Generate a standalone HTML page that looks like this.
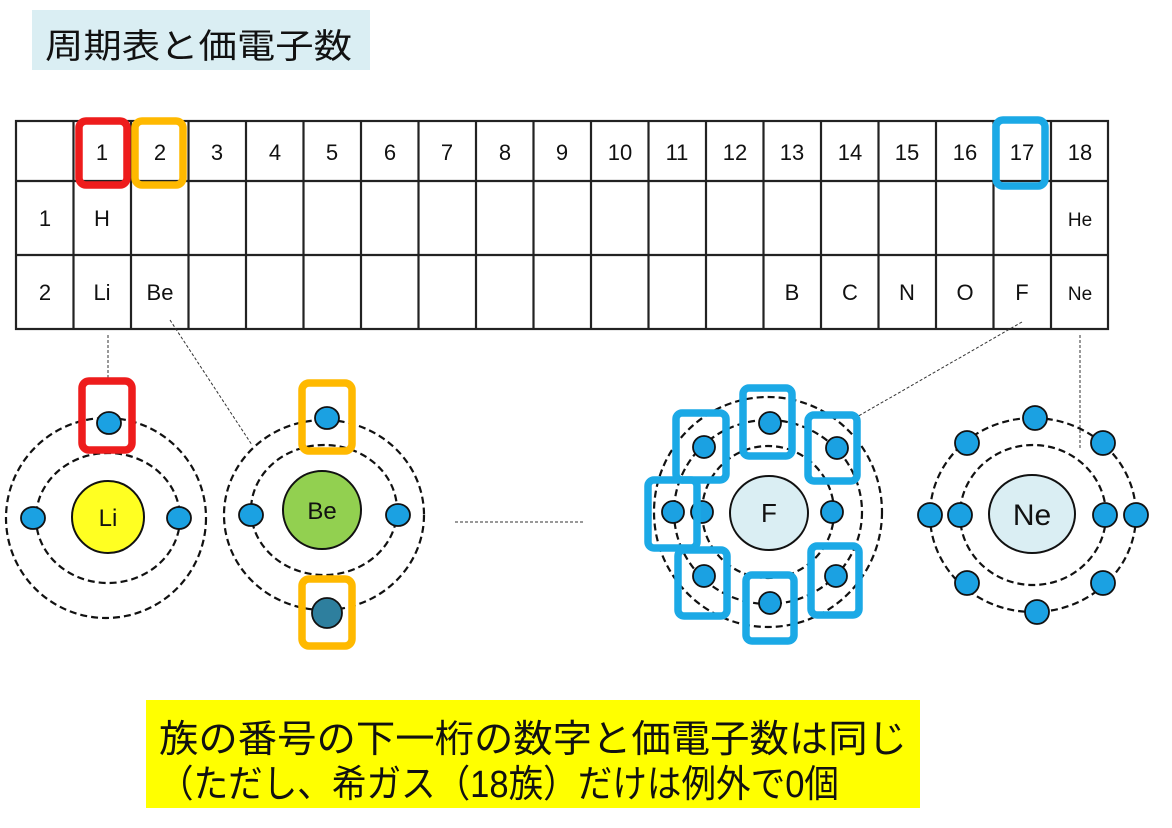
<!DOCTYPE html>
<html><head><meta charset="utf-8"><style>
html,body{margin:0;padding:0;background:#fff;}
svg{display:block;}
text{font-family:"Liberation Sans","Noto Sans CJK JP",sans-serif;}
</style></head><body>
<svg width="1172" height="828" viewBox="0 0 1172 828" xmlns="http://www.w3.org/2000/svg">
<rect x="32" y="10" width="338" height="60" fill="#daeef3"/>
<text x="45" y="58" font-size="34" textLength="307" lengthAdjust="spacingAndGlyphs" fill="#111">周期表と価電子数</text>

<g stroke="#222" stroke-width="2.2" fill="none">
<rect x="16" y="121" width="1092" height="208"/>
<line x1="16" y1="181" x2="1108" y2="181"/>
<line x1="16" y1="255" x2="1108" y2="255"/>
<line x1="73.5" y1="121" x2="73.5" y2="329"/><line x1="131" y1="121" x2="131" y2="329"/><line x1="188.5" y1="121" x2="188.5" y2="329"/><line x1="246" y1="121" x2="246" y2="329"/><line x1="303.5" y1="121" x2="303.5" y2="329"/><line x1="361" y1="121" x2="361" y2="329"/><line x1="418.5" y1="121" x2="418.5" y2="329"/><line x1="476" y1="121" x2="476" y2="329"/><line x1="533.5" y1="121" x2="533.5" y2="329"/><line x1="591" y1="121" x2="591" y2="329"/><line x1="648.5" y1="121" x2="648.5" y2="329"/><line x1="706" y1="121" x2="706" y2="329"/><line x1="763.5" y1="121" x2="763.5" y2="329"/><line x1="821" y1="121" x2="821" y2="329"/><line x1="878.5" y1="121" x2="878.5" y2="329"/><line x1="936" y1="121" x2="936" y2="329"/><line x1="993.5" y1="121" x2="993.5" y2="329"/><line x1="1051" y1="121" x2="1051" y2="329"/>
</g>
<g font-size="22" fill="#111" text-anchor="middle">
<text x="102" y="160">1</text><text x="160" y="160">2</text><text x="217" y="160">3</text><text x="275" y="160">4</text><text x="332" y="160">5</text><text x="390" y="160">6</text><text x="447" y="160">7</text><text x="505" y="160">8</text><text x="562" y="160">9</text><text x="620" y="160">10</text><text x="677" y="160">11</text><text x="735" y="160">12</text><text x="792" y="160">13</text><text x="850" y="160">14</text><text x="907" y="160">15</text><text x="965" y="160">16</text><text x="1022" y="160">17</text><text x="1080" y="160">18</text>
<text x="45" y="226">1</text><text x="102" y="226">H</text>
<text x="45" y="300">2</text><text x="102" y="300">Li</text><text x="160" y="300">Be</text>
<text x="792" y="300">B</text><text x="850" y="300">C</text><text x="907" y="300">N</text><text x="965" y="300">O</text><text x="1022" y="300">F</text>
<text x="1080" y="226" font-size="19">He</text><text x="1080" y="300" font-size="19">Ne</text>
</g>
<g fill="none" stroke-width="7.5">
<rect x="79" y="121" width="48" height="64" rx="7" stroke="#ee1c1c"/>
<rect x="135" y="121" width="48" height="64" rx="7" stroke="#ffb900"/>
<rect x="996" y="120" width="49" height="66" rx="7" stroke="#1ba9e6"/>
</g>

<g stroke="#333" stroke-width="1" stroke-dasharray="3,2" fill="none">
<line x1="108" y1="335" x2="108" y2="378"/>
<line x1="170" y1="320" x2="252" y2="445"/>
<line x1="1022" y1="322" x2="855" y2="418"/>
<line x1="1080" y1="335" x2="1080" y2="450"/>
<line x1="455" y1="522" x2="585" y2="522"/>
</g>

<g fill="none" stroke="#111" stroke-width="2.2" stroke-dasharray="7,4">
<ellipse cx="108" cy="518" rx="72" ry="65"/>
<ellipse cx="106" cy="518" rx="100" ry="100"/>
<ellipse cx="324" cy="510" rx="73" ry="65"/>
<ellipse cx="324" cy="515" rx="100" ry="95"/>
<ellipse cx="768" cy="512" rx="66" ry="66"/>
<ellipse cx="768" cy="512" rx="94" ry="92"/>
<ellipse cx="768" cy="512" rx="114" ry="115"/>
<ellipse cx="1033" cy="515" rx="73" ry="70"/>
<ellipse cx="1033" cy="515" rx="103" ry="97"/>
</g>

<g stroke="#111" stroke-width="2">
<circle cx="108" cy="517" r="36" fill="#ffff22"/>
<circle cx="322" cy="510" r="39" fill="#92d050"/>
<ellipse cx="769" cy="513" rx="39" ry="37" fill="#daeef3"/>
<ellipse cx="1032" cy="514" rx="43" ry="39" fill="#daeef3"/>
</g>
<g font-size="24" fill="#111" text-anchor="middle">
<text x="108" y="526">Li</text><text x="322" y="519">Be</text>
<text x="769" y="522" font-size="26">F</text><text x="1032" y="525" font-size="30">Ne</text>
</g>

<g fill="#1ba1e2" stroke="#111" stroke-width="1.8">
<ellipse cx="109" cy="423" rx="12" ry="11"/><ellipse cx="33" cy="518" rx="12" ry="11"/><ellipse cx="179" cy="518" rx="12" ry="11"/>
<ellipse cx="327" cy="418" rx="12" ry="11"/><ellipse cx="251" cy="515" rx="12" ry="11"/><ellipse cx="398" cy="515" rx="12" ry="11"/>
<circle cx="327" cy="613" r="15" fill="#2e7f9e"/>
<circle cx="704" cy="447" r="11"/><circle cx="770" cy="423" r="11"/><circle cx="837" cy="448" r="11"/><circle cx="673" cy="512" r="11"/><circle cx="704" cy="576" r="11"/><circle cx="770" cy="603" r="11"/><circle cx="836" cy="576" r="11"/><circle cx="702" cy="512" r="11"/><circle cx="832" cy="512" r="11"/>
<circle cx="1035" cy="418" r="12"/><circle cx="967" cy="443" r="12"/><circle cx="1103" cy="443" r="12"/><circle cx="967" cy="583" r="12"/><circle cx="1103" cy="583" r="12"/><circle cx="1037" cy="612" r="12"/>
<circle cx="930" cy="515" r="12"/><circle cx="1136" cy="515" r="12"/><circle cx="960" cy="515" r="12"/><circle cx="1105" cy="515" r="12"/>
</g>

<g fill="none" stroke-width="7.5">
<rect x="82" y="381" width="50" height="69" rx="7" stroke="#ee1c1c"/>
<rect x="302" y="383" width="50" height="68" rx="7" stroke="#ffb900"/>
<rect x="302" y="579" width="50" height="67" rx="7" stroke="#ffb900"/>
</g>
<g fill="none" stroke="#1ba9e6" stroke-width="7.5">
<rect x="676" y="413" width="50" height="67" rx="6"/>
<rect x="743" y="388" width="49" height="68" rx="6"/>
<rect x="808" y="415" width="49" height="66" rx="6"/>
<rect x="648" y="480" width="49" height="68" rx="6"/>
<rect x="678" y="550" width="49" height="66" rx="6"/>
<rect x="746" y="575" width="48" height="66" rx="6"/>
<rect x="811" y="546" width="48" height="69" rx="6"/>
</g>

<rect x="146" y="700" width="774" height="108" fill="#ffff00"/>
<text x="159" y="752" font-size="38" textLength="748" lengthAdjust="spacingAndGlyphs" fill="#111">族の番号の下一桁の数字と価電子数は同じ</text>
<text x="159" y="797" font-size="38" textLength="680" lengthAdjust="spacingAndGlyphs" fill="#111">（ただし、希ガス（18族）だけは例外で0個</text>
</svg>
</body></html>
